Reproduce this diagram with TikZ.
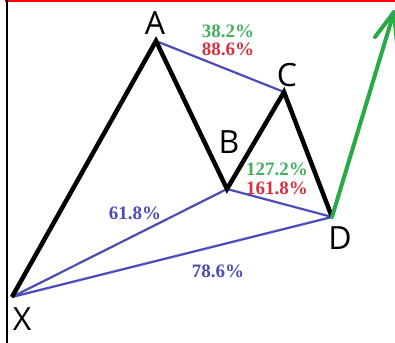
\documentclass[tikz,border=0pt]{standalone}
\usepackage{fontspec}
\setmainfont{Open Sans}
\newfontfamily\pctfont{Liberation Serif}
\definecolor{fibgreen}{RGB}{70,175,95}
\definecolor{fibred}{RGB}{215,50,65}
\definecolor{fibblue}{RGB}{75,75,185}
\definecolor{arrgreen}{RGB}{40,170,70}
\tikzset{
  leg/.style={line width=4.5pt, black, line join=miter},
  ratio/.style={line width=2.2pt, fibblue},
  ptlabel/.style={font=\fontsize{32}{32}\selectfont, inner sep=0pt, anchor=center},
  pct/.style={font=\pctfont\bfseries\fontsize{19}{19}\selectfont, inner sep=0pt, anchor=center},
}
\begin{document}
\begin{tikzpicture}[x=1pt,y=-1pt]
\useasboundingbox (0,0) rectangle (395,342);
\begin{scope}
\clip (0,0) rectangle (395,342);
% frame
\draw[red, line width=3pt] (5,1) -- (396,1);
\draw[black, line width=2pt] (7,0) -- (7,343);
% points
\coordinate (X) at (12,297);
\coordinate (A) at (156,41);
\coordinate (B) at (227,189);
\coordinate (C) at (284,92);
\coordinate (D) at (332,217);
\coordinate (T) at (394,12);
\coordinate (W1) at (375,37);
\coordinate (W2) at (397,44);
% ratio lines
\draw[ratio] (A) -- (C);
\draw[ratio] (X) -- (B) -- (D);
\draw[ratio] (X) -- (D);
% legs
\draw[leg] (X) -- (A) -- (B) -- (C) -- (D);
% arrow
\draw[arrgreen, line width=4pt, line cap=round] (D) -- (T);
\draw[arrgreen, line width=4pt, line cap=round, line join=round] (W1) -- (T) -- (W2);
\end{scope}
% point labels
\node[ptlabel] (lA) at (155,23) {A};
\node[ptlabel] (lB) at (229,142) {B};
\node[ptlabel] (lC) at (287,75) {C};
\node[ptlabel] (lD) at (340,238) {D};
\node[ptlabel] (lX) at (22,319) {X};
% ratios
\node[pct, fibgreen] (p1) at (228,31) {38.2\%};
\node[pct, fibred] (p2) at (228,49) {88.6\%};
\node[pct, fibgreen] (p3) at (277,169) {127.2\%};
\node[pct, fibred] (p4) at (277,188) {161.8\%};
\node[pct, fibblue] (p5) at (135,213) {61.8\%};
\node[pct, fibblue] (p6) at (218,271) {78.6\%};
\end{tikzpicture}
\end{document}
